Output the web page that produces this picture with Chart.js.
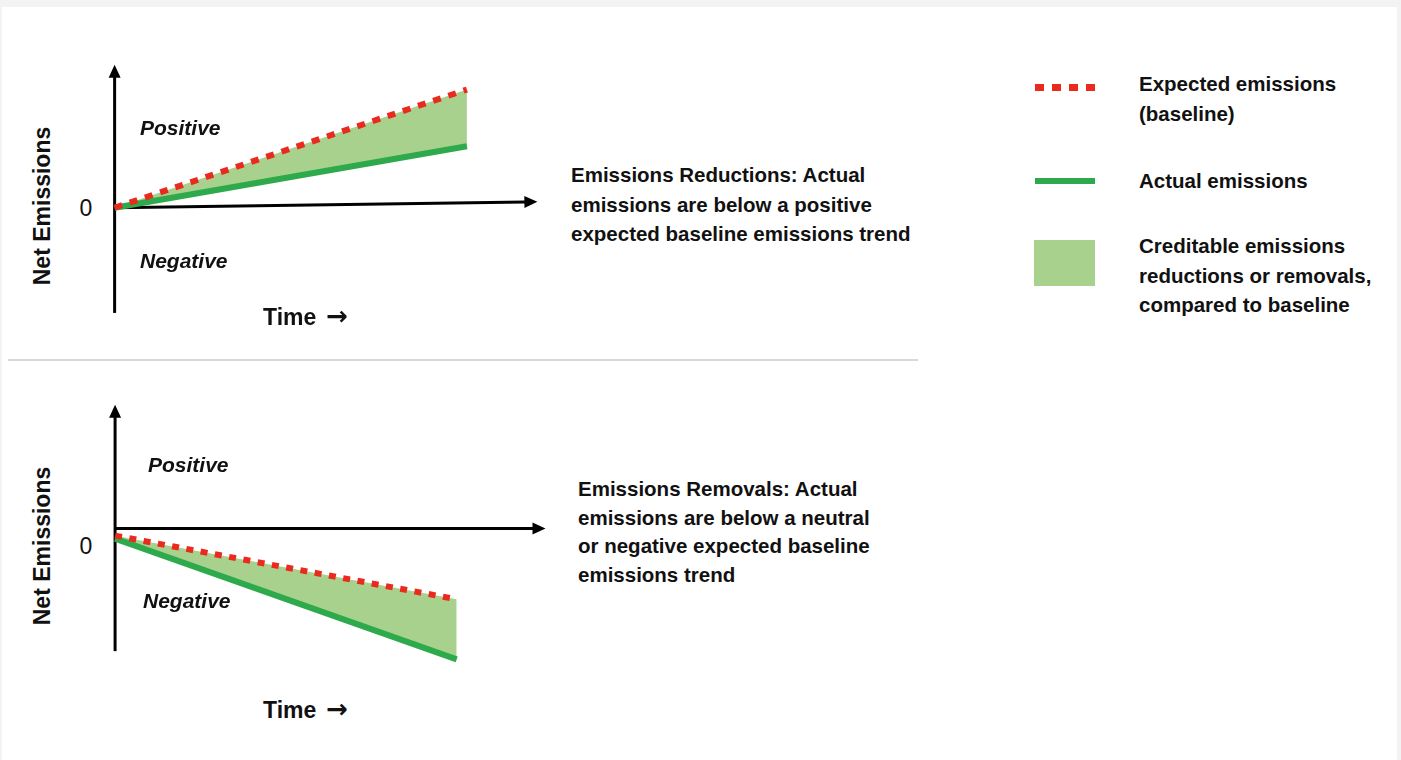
<!DOCTYPE html>
<html>
<head>
<meta charset="utf-8">
<script src="https://cdn.jsdelivr.net/npm/chart.js@4.4.1/dist/chart.umd.min.js"></script>
<style>
  html, body { margin: 0; padding: 0; }
  body { width: 1401px; height: 760px; background: #f2f3f2; position: relative; overflow: hidden;
         font-family: "Liberation Sans", Arial, sans-serif; color: #111; }
  #card { position: absolute; left: 2px; top: 7px; width: 1395px; height: 753px; background: #fff; }
  canvas { position: absolute; }
  .t { position: absolute; white-space: nowrap; font-weight: bold; font-size: 21px; transform: translateY(-50%); }
  .time { font-size: 23px; }
  .it { font-style: italic; }
  .arr { display: inline-block; font-family: "DejaVu Sans", sans-serif; font-weight: bold; font-size: 26px; margin-left: 10px; }
  .zero { position: absolute; font-size: 23px; font-weight: normal; transform: translate(-50%, -50%); }
  .ylab { position: absolute; font-size: 23px; font-weight: bold; white-space: nowrap;
          transform: translate(-50%, -50%) rotate(-90deg); }
  .block { position: absolute; font-weight: bold; font-size: 20.5px; white-space: nowrap; }
  #divider { position: absolute; left: 8px; top: 359px; width: 910px; height: 2px; background: #d8d8d8; }
  .lg { position: absolute; }
</style>
</head>
<body>
<div id="card"></div>
<div id="divider"></div>

<canvas id="topChart" width="458" height="260" style="left:97px; top:60px; width:458px; height:260px;"></canvas>
<canvas id="botChart" width="468" height="277" style="left:98px; top:393px; width:468px; height:277px;"></canvas>

<!-- top panel texts -->
<div class="ylab" style="left:42px; top:206px;">Net Emissions</div>
<div class="zero" style="left:86px; top:208px;">0</div>
<div class="t it" style="left:140px; top:128px;">Positive</div>
<div class="t it" style="left:140px; top:261px;">Negative</div>
<div class="t time" style="left:263px; top:316px;">Time<span class="arr">→</span></div>
<div class="block" style="left:571px; top:160px; line-height:29.5px;">Emissions Reductions: Actual<br>emissions are below a positive<br>expected baseline emissions trend</div>

<!-- bottom panel texts -->
<div class="ylab" style="left:42px; top:546px;">Net Emissions</div>
<div class="zero" style="left:86px; top:546px;">0</div>
<div class="t it" style="left:148px; top:465px;">Positive</div>
<div class="t it" style="left:143px; top:601px;">Negative</div>
<div class="t time" style="left:263px; top:709px;">Time<span class="arr">→</span></div>
<div class="block" style="left:578px; top:475px; line-height:28.5px;">Emissions Removals: Actual<br>emissions are below a neutral<br>or negative expected baseline<br>emissions trend</div>

<!-- legend -->
<div class="lg" style="left:1035px; top:84px; width:60px; height:7px; background: repeating-linear-gradient(90deg, #ea2a1f 0 9px, transparent 9px 17px);"></div>
<div class="block" style="left:1139px; top:69px; line-height:30px;">Expected emissions<br>(baseline)</div>
<div class="lg" style="left:1035px; top:178px; width:60px; height:6px; background:#2eaa4c;"></div>
<div class="block" style="left:1139px; top:166px; line-height:30px;">Actual emissions</div>
<div class="lg" style="left:1034px; top:240px; width:61px; height:46px; background:#a9d18e;"></div>
<div class="block" style="left:1139px; top:231px; line-height:29.5px;">Creditable emissions<br>reductions or removals,<br>compared to baseline</div>

<script>
// ---- data (arbitrary conceptual units) ----
const timePoints = [0, 10];

// Top panel: emissions reductions
const topBaseline = [0, 10];
const topActual   = [0, 5.2];
const topXAxisEnds = [[0, 0], [12, 0.5]];
const topYAxisEnds = [[0, -8.9], [0, 12.1]];

// Bottom panel: emissions removals
const botBaseline = [-0.6, -6.0];
const botActual   = [-0.85, -11.1];
const botXAxisEnds = [[0, 0], [12.6, 0]];
const botYAxisEnds = [[0, -10.4], [0, 10.5]];

const RED = '#ea2a1f', GREEN = '#2eaa4c', FILL = '#a9d18e';

const toPts = (xs, ys) => xs.map((x, i) => ({ x: x, y: ys[i] }));

const arrowAxes = {
  id: 'arrowAxes',
  beforeDatasetsDraw(chart, args, opts) {
    const { ctx, scales: { x, y } } = chart;
    ctx.save();
    ctx.strokeStyle = '#000';
    ctx.fillStyle = '#000';
    ctx.lineWidth = 3;
    ctx.lineCap = 'butt';
    const L = 13, W = 6;
    for (const ends of opts.axes) {
      const x0 = x.getPixelForValue(ends[0][0]), y0 = y.getPixelForValue(ends[0][1]);
      const x1 = x.getPixelForValue(ends[1][0]), y1 = y.getPixelForValue(ends[1][1]);
      const dx = x1 - x0, dy = y1 - y0, len = Math.hypot(dx, dy);
      const ux = dx / len, uy = dy / len;
      const bx = x1 - ux * L, by = y1 - uy * L;
      ctx.beginPath();
      ctx.moveTo(x0, y0);
      ctx.lineTo(bx + ux * 1, by + uy * 1);
      ctx.stroke();
      ctx.beginPath();
      ctx.moveTo(x1, y1);
      ctx.lineTo(bx - uy * W, by + ux * W);
      ctx.lineTo(bx + uy * W, by - ux * W);
      ctx.closePath();
      ctx.fill();
    }
    ctx.restore();
  }
};

function makeChart(id, baseline, actual, xRange, yRange, axes, dash) {
  return new Chart(document.getElementById(id), {
    type: 'line',
    data: {
      datasets: [
        {
          label: 'Expected emissions (baseline)',
          data: toPts(timePoints, baseline),
          borderColor: RED,
          borderWidth: 6,
          borderDash: dash,
          borderCapStyle: 'butt',
          backgroundColor: FILL,
          fill: '+1',
          pointRadius: 0,
          tension: 0
        },
        {
          label: 'Actual emissions',
          data: toPts(timePoints, actual),
          borderColor: GREEN,
          borderWidth: 6,
          borderCapStyle: 'butt',
          fill: false,
          pointRadius: 0,
          tension: 0
        }
      ]
    },
    options: {
      responsive: false,
      animation: false,
      events: [],
      layout: { padding: 0 },
      scales: {
        x: { type: 'linear', display: false, min: xRange[0], max: xRange[1] },
        y: { type: 'linear', display: false, min: yRange[0], max: yRange[1] }
      },
      plugins: {
        legend: { display: false },
        tooltip: { enabled: false },
        filler: { drawTime: 'beforeDatasetsDraw' },
        arrowAxes: { axes: axes }
      }
    },
    plugins: [arrowAxes]
  });
}

makeChart('topChart', topBaseline, topActual, [-0.5, 12.5], [-9.5, 12.5], [topXAxisEnds, topYAxisEnds], [8, 8]);
makeChart('botChart', botBaseline, botActual, [-0.5, 13.2], [-12, 11.5], [botXAxisEnds, botYAxisEnds], [7, 7.5]);
</script>
</body>
</html>
